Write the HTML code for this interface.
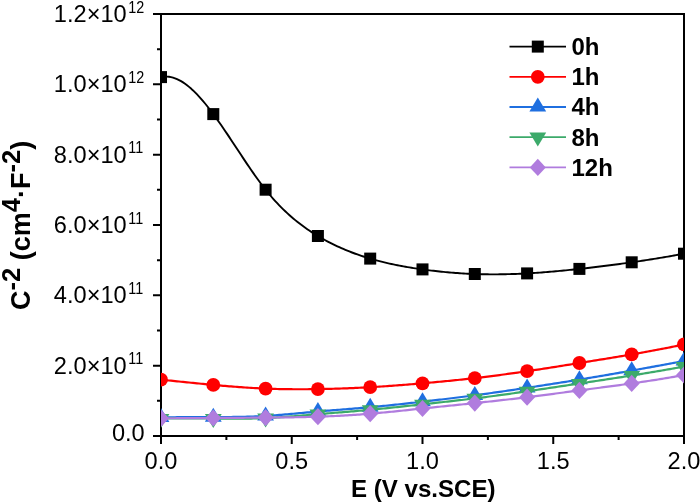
<!DOCTYPE html>
<html><head><meta charset="utf-8"><title>chart</title>
<style>
html,body{margin:0;padding:0;background:#fff;}
body{width:700px;height:503px;position:relative;overflow:hidden;font-family:"Liberation Sans",sans-serif;}
</style></head><body>
<svg width="700" height="503" viewBox="0 0 700 503" style="position:absolute;left:0;top:0;will-change:transform">
<defs><clipPath id="pc"><rect x="161" y="14" width="523" height="422"/></clipPath></defs>
<rect x="0" y="0" width="700" height="503" fill="#ffffff"/>
<rect x="161.0" y="14.0" width="523.0" height="422.0" fill="none" stroke="#000" stroke-width="2"/>
<path d="M153 436.00 H161.0 M157 400.83 H161.0 M153 365.67 H161.0 M157 330.50 H161.0 M153 295.33 H161.0 M157 260.17 H161.0 M153 225.00 H161.0 M157 189.83 H161.0 M153 154.67 H161.0 M157 119.50 H161.0 M153 84.33 H161.0 M157 49.17 H161.0 M153 14.00 H161.0 M161.00 436.0 V444 M226.38 436.0 V440 M291.75 436.0 V444 M357.12 436.0 V440 M422.50 436.0 V444 M487.88 436.0 V440 M553.25 436.0 V444 M618.62 436.0 V440 M684.00 436.0 V444" stroke="#000" stroke-width="2" fill="none"/>
<g clip-path="url(#pc)">
<path d="M161.00 77.10 L163.00 76.76 L165.01 76.60 L167.01 76.61 L169.02 76.79 L171.02 77.14 L173.02 77.64 L175.03 78.30 L177.03 79.12 L179.03 80.07 L181.04 81.17 L183.04 82.40 L185.05 83.77 L187.05 85.26 L189.05 86.87 L191.06 88.59 L193.06 90.43 L195.07 92.37 L197.07 94.42 L199.07 96.56 L201.08 98.79 L203.08 101.11 L205.08 103.51 L207.09 105.99 L209.09 108.54 L211.10 111.15 L213.10 113.83 L215.10 116.56 L217.11 119.35 L219.11 122.19 L221.11 125.06 L223.12 127.98 L225.12 130.92 L227.13 133.90 L229.13 136.90 L231.13 139.91 L233.14 142.94 L235.14 145.98 L237.15 149.02 L239.15 152.06 L241.15 155.09 L243.16 158.11 L245.16 161.12 L247.16 164.10 L249.17 167.06 L251.17 169.99 L253.18 172.88 L255.18 175.73 L257.18 178.53 L259.19 181.28 L261.19 183.98 L263.20 186.62 L265.20 189.19 L267.20 191.70 L269.21 194.13 L271.21 196.50 L273.21 198.79 L275.22 201.03 L277.22 203.20 L279.23 205.30 L281.23 207.35 L283.23 209.34 L285.24 211.27 L287.24 213.14 L289.25 214.96 L291.25 216.73 L293.25 218.45 L295.26 220.12 L297.26 221.74 L299.26 223.31 L301.27 224.84 L303.27 226.32 L305.28 227.77 L307.28 229.17 L309.28 230.53 L311.29 231.86 L313.29 233.15 L315.30 234.41 L317.30 235.64 L319.30 236.83 L321.31 238.00 L323.31 239.13 L325.31 240.24 L327.32 241.32 L329.32 242.37 L331.33 243.40 L333.33 244.39 L335.33 245.36 L337.34 246.31 L339.34 247.23 L341.34 248.12 L343.35 248.99 L345.35 249.84 L347.36 250.67 L349.36 251.47 L351.36 252.25 L353.37 253.01 L355.37 253.74 L357.38 254.46 L359.38 255.16 L361.38 255.84 L363.39 256.49 L365.39 257.13 L367.39 257.76 L369.40 258.36 L371.40 258.95 L373.41 259.52 L375.41 260.08 L377.41 260.62 L379.42 261.15 L381.42 261.66 L383.43 262.15 L385.43 262.63 L387.43 263.10 L389.44 263.56 L391.44 264.00 L393.44 264.42 L395.45 264.84 L397.45 265.24 L399.46 265.64 L401.46 266.02 L403.46 266.38 L405.47 266.74 L407.47 267.09 L409.48 267.43 L411.48 267.76 L413.48 268.07 L415.49 268.38 L417.49 268.68 L419.49 268.98 L421.50 269.26 L423.50 269.54 L425.51 269.81 L427.51 270.07 L429.51 270.32 L431.52 270.57 L433.52 270.81 L435.52 271.04 L437.53 271.26 L439.53 271.48 L441.54 271.69 L443.54 271.89 L445.54 272.08 L447.55 272.26 L449.55 272.44 L451.56 272.61 L453.56 272.77 L455.56 272.93 L457.57 273.07 L459.57 273.21 L461.57 273.34 L463.58 273.46 L465.58 273.58 L467.59 273.68 L469.59 273.78 L471.59 273.87 L473.60 273.95 L475.60 274.03 L477.61 274.09 L479.61 274.15 L481.61 274.20 L483.62 274.25 L485.62 274.28 L487.62 274.31 L489.63 274.33 L491.63 274.34 L493.64 274.34 L495.64 274.34 L497.64 274.33 L499.65 274.31 L501.65 274.29 L503.66 274.26 L505.66 274.22 L507.66 274.17 L509.67 274.12 L511.67 274.06 L513.67 274.00 L515.68 273.93 L517.68 273.85 L519.69 273.77 L521.69 273.68 L523.69 273.58 L525.70 273.48 L527.70 273.37 L529.70 273.25 L531.71 273.13 L533.71 273.01 L535.72 272.87 L537.72 272.74 L539.72 272.59 L541.73 272.45 L543.73 272.29 L545.74 272.14 L547.74 271.97 L549.74 271.81 L551.75 271.64 L553.75 271.46 L555.75 271.28 L557.76 271.10 L559.76 270.91 L561.77 270.72 L563.77 270.53 L565.77 270.33 L567.78 270.13 L569.78 269.92 L571.79 269.71 L573.79 269.50 L575.79 269.29 L577.80 269.07 L579.80 268.86 L581.80 268.64 L583.81 268.41 L585.81 268.19 L587.82 267.96 L589.82 267.73 L591.82 267.49 L593.83 267.26 L595.83 267.02 L597.84 266.78 L599.84 266.54 L601.84 266.29 L603.85 266.04 L605.85 265.79 L607.85 265.54 L609.86 265.28 L611.86 265.02 L613.87 264.76 L615.87 264.49 L617.87 264.22 L619.88 263.95 L621.88 263.68 L623.89 263.40 L625.89 263.13 L627.89 262.84 L629.90 262.56 L631.90 262.27 L633.90 261.98 L635.91 261.69 L637.91 261.39 L639.92 261.09 L641.92 260.79 L643.92 260.48 L645.93 260.17 L647.93 259.86 L649.93 259.55 L651.94 259.23 L653.94 258.91 L655.95 258.58 L657.95 258.26 L659.95 257.93 L661.96 257.59 L663.96 257.25 L665.97 256.91 L667.97 256.57 L669.97 256.22 L671.98 255.87 L673.98 255.52 L675.98 255.16 L677.99 254.80 L679.99 254.44 L682.00 254.07 L684.00 253.70" fill="none" stroke="#000000" stroke-width="1.9" stroke-linejoin="round"/>
<rect x="155.00" y="71.10" width="12.0" height="12.0" fill="#000000"/>
<rect x="207.30" y="108.10" width="12.0" height="12.0" fill="#000000"/>
<rect x="259.60" y="183.70" width="12.0" height="12.0" fill="#000000"/>
<rect x="311.90" y="230.00" width="12.0" height="12.0" fill="#000000"/>
<rect x="364.20" y="252.60" width="12.0" height="12.0" fill="#000000"/>
<rect x="416.50" y="263.40" width="12.0" height="12.0" fill="#000000"/>
<rect x="468.80" y="268.00" width="12.0" height="12.0" fill="#000000"/>
<rect x="521.10" y="267.40" width="12.0" height="12.0" fill="#000000"/>
<rect x="573.40" y="262.90" width="12.0" height="12.0" fill="#000000"/>
<rect x="625.70" y="256.30" width="12.0" height="12.0" fill="#000000"/>
<rect x="678.00" y="247.70" width="12.0" height="12.0" fill="#000000"/>
<path d="M161.00 379.70 L163.00 379.90 L165.01 380.10 L167.01 380.30 L169.02 380.50 L171.02 380.70 L173.02 380.90 L175.03 381.11 L177.03 381.31 L179.03 381.51 L181.04 381.72 L183.04 381.92 L185.05 382.12 L187.05 382.33 L189.05 382.53 L191.06 382.73 L193.06 382.93 L195.07 383.13 L197.07 383.33 L199.07 383.53 L201.08 383.73 L203.08 383.93 L205.08 384.12 L207.09 384.31 L209.09 384.50 L211.10 384.69 L213.10 384.88 L215.10 385.07 L217.11 385.25 L219.11 385.43 L221.11 385.61 L223.12 385.78 L225.12 385.95 L227.13 386.12 L229.13 386.29 L231.13 386.45 L233.14 386.61 L235.14 386.77 L237.15 386.92 L239.15 387.07 L241.15 387.21 L243.16 387.35 L245.16 387.49 L247.16 387.62 L249.17 387.75 L251.17 387.87 L253.18 387.99 L255.18 388.10 L257.18 388.21 L259.19 388.31 L261.19 388.41 L263.20 388.50 L265.20 388.58 L267.20 388.66 L269.21 388.74 L271.21 388.81 L273.21 388.87 L275.22 388.93 L277.22 388.98 L279.23 389.03 L281.23 389.08 L283.23 389.11 L285.24 389.15 L287.24 389.18 L289.25 389.20 L291.25 389.22 L293.25 389.23 L295.26 389.24 L297.26 389.25 L299.26 389.25 L301.27 389.25 L303.27 389.25 L305.28 389.24 L307.28 389.23 L309.28 389.21 L311.29 389.19 L313.29 389.17 L315.30 389.14 L317.30 389.11 L319.30 389.08 L321.31 389.04 L323.31 389.00 L325.31 388.96 L327.32 388.92 L329.32 388.87 L331.33 388.82 L333.33 388.76 L335.33 388.71 L337.34 388.64 L339.34 388.58 L341.34 388.51 L343.35 388.45 L345.35 388.37 L347.36 388.30 L349.36 388.22 L351.36 388.13 L353.37 388.05 L355.37 387.96 L357.38 387.87 L359.38 387.77 L361.38 387.67 L363.39 387.57 L365.39 387.47 L367.39 387.36 L369.40 387.25 L371.40 387.13 L373.41 387.01 L375.41 386.89 L377.41 386.77 L379.42 386.64 L381.42 386.51 L383.43 386.37 L385.43 386.24 L387.43 386.10 L389.44 385.96 L391.44 385.81 L393.44 385.66 L395.45 385.52 L397.45 385.36 L399.46 385.21 L401.46 385.05 L403.46 384.90 L405.47 384.73 L407.47 384.57 L409.48 384.41 L411.48 384.24 L413.48 384.07 L415.49 383.90 L417.49 383.73 L419.49 383.56 L421.50 383.39 L423.50 383.21 L425.51 383.04 L427.51 382.86 L429.51 382.68 L431.52 382.50 L433.52 382.31 L435.52 382.13 L437.53 381.94 L439.53 381.76 L441.54 381.57 L443.54 381.38 L445.54 381.18 L447.55 380.99 L449.55 380.79 L451.56 380.59 L453.56 380.39 L455.56 380.18 L457.57 379.98 L459.57 379.77 L461.57 379.56 L463.58 379.34 L465.58 379.13 L467.59 378.91 L469.59 378.69 L471.59 378.46 L473.60 378.24 L475.60 378.01 L477.61 377.78 L479.61 377.54 L481.61 377.30 L483.62 377.06 L485.62 376.82 L487.62 376.57 L489.63 376.32 L491.63 376.07 L493.64 375.82 L495.64 375.56 L497.64 375.30 L499.65 375.04 L501.65 374.77 L503.66 374.51 L505.66 374.24 L507.66 373.96 L509.67 373.69 L511.67 373.41 L513.67 373.13 L515.68 372.85 L517.68 372.57 L519.69 372.28 L521.69 371.99 L523.69 371.70 L525.70 371.41 L527.70 371.11 L529.70 370.81 L531.71 370.51 L533.71 370.21 L535.72 369.91 L537.72 369.60 L539.72 369.30 L541.73 368.99 L543.73 368.68 L545.74 368.37 L547.74 368.05 L549.74 367.74 L551.75 367.42 L553.75 367.11 L555.75 366.79 L557.76 366.47 L559.76 366.15 L561.77 365.83 L563.77 365.51 L565.77 365.19 L567.78 364.87 L569.78 364.55 L571.79 364.22 L573.79 363.90 L575.79 363.58 L577.80 363.26 L579.80 362.94 L581.80 362.61 L583.81 362.29 L585.81 361.97 L587.82 361.65 L589.82 361.33 L591.82 361.00 L593.83 360.68 L595.83 360.36 L597.84 360.03 L599.84 359.71 L601.84 359.38 L603.85 359.06 L605.85 358.73 L607.85 358.40 L609.86 358.07 L611.86 357.74 L613.87 357.41 L615.87 357.08 L617.87 356.75 L619.88 356.41 L621.88 356.08 L623.89 355.74 L625.89 355.40 L627.89 355.05 L629.90 354.71 L631.90 354.37 L633.90 354.02 L635.91 353.67 L637.91 353.32 L639.92 352.96 L641.92 352.60 L643.92 352.24 L645.93 351.88 L647.93 351.52 L649.93 351.15 L651.94 350.78 L653.94 350.41 L655.95 350.03 L657.95 349.65 L659.95 349.27 L661.96 348.88 L663.96 348.49 L665.97 348.10 L667.97 347.71 L669.97 347.31 L671.98 346.90 L673.98 346.50 L675.98 346.08 L677.99 345.67 L679.99 345.25 L682.00 344.83 L684.00 344.40" fill="none" stroke="#ff0000" stroke-width="2.2" stroke-linejoin="round"/>
<circle cx="161.00" cy="379.70" r="6.9" fill="#ff0000"/>
<circle cx="213.30" cy="384.90" r="6.9" fill="#ff0000"/>
<circle cx="265.60" cy="388.60" r="6.9" fill="#ff0000"/>
<circle cx="317.90" cy="389.10" r="6.9" fill="#ff0000"/>
<circle cx="370.20" cy="387.20" r="6.9" fill="#ff0000"/>
<circle cx="422.50" cy="383.30" r="6.9" fill="#ff0000"/>
<circle cx="474.80" cy="378.10" r="6.9" fill="#ff0000"/>
<circle cx="527.10" cy="371.20" r="6.9" fill="#ff0000"/>
<circle cx="579.40" cy="363.00" r="6.9" fill="#ff0000"/>
<circle cx="631.70" cy="354.40" r="6.9" fill="#ff0000"/>
<circle cx="684.00" cy="344.40" r="6.9" fill="#ff0000"/>
<path d="M161.00 417.50 L163.00 417.45 L165.01 417.40 L167.01 417.36 L169.02 417.32 L171.02 417.28 L173.02 417.25 L175.03 417.23 L177.03 417.20 L179.03 417.18 L181.04 417.17 L183.04 417.15 L185.05 417.14 L187.05 417.13 L189.05 417.12 L191.06 417.12 L193.06 417.11 L195.07 417.11 L197.07 417.11 L199.07 417.11 L201.08 417.11 L203.08 417.11 L205.08 417.11 L207.09 417.11 L209.09 417.10 L211.10 417.10 L213.10 417.10 L215.10 417.10 L217.11 417.09 L219.11 417.08 L221.11 417.08 L223.12 417.07 L225.12 417.05 L227.13 417.04 L229.13 417.02 L231.13 417.00 L233.14 416.97 L235.14 416.94 L237.15 416.91 L239.15 416.87 L241.15 416.83 L243.16 416.79 L245.16 416.74 L247.16 416.68 L249.17 416.62 L251.17 416.56 L253.18 416.49 L255.18 416.41 L257.18 416.32 L259.19 416.23 L261.19 416.14 L263.20 416.03 L265.20 415.92 L267.20 415.80 L269.21 415.68 L271.21 415.55 L273.21 415.41 L275.22 415.26 L277.22 415.11 L279.23 414.96 L281.23 414.80 L283.23 414.63 L285.24 414.47 L287.24 414.29 L289.25 414.12 L291.25 413.94 L293.25 413.76 L295.26 413.58 L297.26 413.39 L299.26 413.21 L301.27 413.02 L303.27 412.84 L305.28 412.65 L307.28 412.46 L309.28 412.28 L311.29 412.09 L313.29 411.91 L315.30 411.73 L317.30 411.55 L319.30 411.38 L321.31 411.20 L323.31 411.03 L325.31 410.87 L327.32 410.70 L329.32 410.54 L331.33 410.37 L333.33 410.21 L335.33 410.05 L337.34 409.89 L339.34 409.73 L341.34 409.58 L343.35 409.42 L345.35 409.26 L347.36 409.10 L349.36 408.94 L351.36 408.78 L353.37 408.62 L355.37 408.46 L357.38 408.30 L359.38 408.13 L361.38 407.96 L363.39 407.80 L365.39 407.62 L367.39 407.45 L369.40 407.27 L371.40 407.09 L373.41 406.91 L375.41 406.72 L377.41 406.53 L379.42 406.34 L381.42 406.14 L383.43 405.95 L385.43 405.75 L387.43 405.54 L389.44 405.34 L391.44 405.13 L393.44 404.92 L395.45 404.71 L397.45 404.50 L399.46 404.28 L401.46 404.06 L403.46 403.84 L405.47 403.62 L407.47 403.40 L409.48 403.18 L411.48 402.95 L413.48 402.73 L415.49 402.50 L417.49 402.27 L419.49 402.04 L421.50 401.82 L423.50 401.58 L425.51 401.35 L427.51 401.12 L429.51 400.89 L431.52 400.66 L433.52 400.42 L435.52 400.19 L437.53 399.95 L439.53 399.71 L441.54 399.47 L443.54 399.23 L445.54 398.99 L447.55 398.75 L449.55 398.51 L451.56 398.26 L453.56 398.02 L455.56 397.77 L457.57 397.52 L459.57 397.27 L461.57 397.01 L463.58 396.76 L465.58 396.50 L467.59 396.25 L469.59 395.99 L471.59 395.72 L473.60 395.46 L475.60 395.19 L477.61 394.93 L479.61 394.66 L481.61 394.38 L483.62 394.11 L485.62 393.83 L487.62 393.56 L489.63 393.28 L491.63 393.00 L493.64 392.71 L495.64 392.43 L497.64 392.14 L499.65 391.86 L501.65 391.57 L503.66 391.28 L505.66 390.99 L507.66 390.69 L509.67 390.40 L511.67 390.10 L513.67 389.81 L515.68 389.51 L517.68 389.21 L519.69 388.91 L521.69 388.61 L523.69 388.31 L525.70 388.01 L527.70 387.71 L529.70 387.41 L531.71 387.10 L533.71 386.80 L535.72 386.49 L537.72 386.19 L539.72 385.88 L541.73 385.57 L543.73 385.26 L545.74 384.96 L547.74 384.65 L549.74 384.33 L551.75 384.02 L553.75 383.71 L555.75 383.39 L557.76 383.08 L559.76 382.76 L561.77 382.45 L563.77 382.13 L565.77 381.81 L567.78 381.49 L569.78 381.16 L571.79 380.84 L573.79 380.52 L575.79 380.19 L577.80 379.86 L579.80 379.53 L581.80 379.20 L583.81 378.87 L585.81 378.54 L587.82 378.21 L589.82 377.87 L591.82 377.53 L593.83 377.20 L595.83 376.86 L597.84 376.52 L599.84 376.18 L601.84 375.83 L603.85 375.49 L605.85 375.14 L607.85 374.80 L609.86 374.45 L611.86 374.10 L613.87 373.75 L615.87 373.40 L617.87 373.05 L619.88 372.70 L621.88 372.35 L623.89 371.99 L625.89 371.64 L627.89 371.28 L629.90 370.92 L631.90 370.56 L633.90 370.21 L635.91 369.85 L637.91 369.48 L639.92 369.12 L641.92 368.76 L643.92 368.40 L645.93 368.03 L647.93 367.67 L649.93 367.30 L651.94 366.94 L653.94 366.57 L655.95 366.20 L657.95 365.84 L659.95 365.47 L661.96 365.10 L663.96 364.73 L665.97 364.36 L667.97 363.99 L669.97 363.61 L671.98 363.24 L673.98 362.87 L675.98 362.50 L677.99 362.12 L679.99 361.75 L682.00 361.37 L684.00 361.00" fill="none" stroke="#1f6fe0" stroke-width="2.2" stroke-linejoin="round"/>
<path d="M152.60 422.10 L169.40 422.10 L161.00 408.10 Z" fill="#1f6fe0"/>
<path d="M204.90 421.70 L221.70 421.70 L213.30 407.70 Z" fill="#1f6fe0"/>
<path d="M257.20 420.50 L274.00 420.50 L265.60 406.50 Z" fill="#1f6fe0"/>
<path d="M309.50 416.10 L326.30 416.10 L317.90 402.10 Z" fill="#1f6fe0"/>
<path d="M361.80 411.80 L378.60 411.80 L370.20 397.80 Z" fill="#1f6fe0"/>
<path d="M414.10 406.30 L430.90 406.30 L422.50 392.30 Z" fill="#1f6fe0"/>
<path d="M466.40 399.90 L483.20 399.90 L474.80 385.90 Z" fill="#1f6fe0"/>
<path d="M518.70 392.40 L535.50 392.40 L527.10 378.40 Z" fill="#1f6fe0"/>
<path d="M571.00 384.20 L587.80 384.20 L579.40 370.20 Z" fill="#1f6fe0"/>
<path d="M623.30 375.20 L640.10 375.20 L631.70 361.20 Z" fill="#1f6fe0"/>
<path d="M675.60 365.60 L692.40 365.60 L684.00 351.60 Z" fill="#1f6fe0"/>
<path d="M161.00 418.70 L163.00 418.63 L165.01 418.57 L167.01 418.52 L169.02 418.47 L171.02 418.43 L173.02 418.40 L175.03 418.37 L177.03 418.34 L179.03 418.32 L181.04 418.31 L183.04 418.30 L185.05 418.30 L187.05 418.29 L189.05 418.30 L191.06 418.30 L193.06 418.31 L195.07 418.32 L197.07 418.34 L199.07 418.35 L201.08 418.37 L203.08 418.39 L205.08 418.41 L207.09 418.43 L209.09 418.45 L211.10 418.48 L213.10 418.50 L215.10 418.52 L217.11 418.54 L219.11 418.56 L221.11 418.58 L223.12 418.60 L225.12 418.62 L227.13 418.63 L229.13 418.64 L231.13 418.65 L233.14 418.66 L235.14 418.66 L237.15 418.66 L239.15 418.66 L241.15 418.65 L243.16 418.63 L245.16 418.62 L247.16 418.59 L249.17 418.57 L251.17 418.53 L253.18 418.49 L255.18 418.45 L257.18 418.40 L259.19 418.34 L261.19 418.27 L263.20 418.20 L265.20 418.12 L267.20 418.03 L269.21 417.93 L271.21 417.83 L273.21 417.72 L275.22 417.60 L277.22 417.47 L279.23 417.34 L281.23 417.21 L283.23 417.07 L285.24 416.92 L287.24 416.77 L289.25 416.62 L291.25 416.46 L293.25 416.30 L295.26 416.14 L297.26 415.97 L299.26 415.80 L301.27 415.63 L303.27 415.46 L305.28 415.29 L307.28 415.12 L309.28 414.94 L311.29 414.77 L313.29 414.59 L315.30 414.42 L317.30 414.25 L319.30 414.08 L321.31 413.91 L323.31 413.75 L325.31 413.58 L327.32 413.42 L329.32 413.25 L331.33 413.09 L333.33 412.93 L335.33 412.76 L337.34 412.60 L339.34 412.44 L341.34 412.28 L343.35 412.11 L345.35 411.95 L347.36 411.78 L349.36 411.62 L351.36 411.45 L353.37 411.29 L355.37 411.12 L357.38 410.94 L359.38 410.77 L361.38 410.60 L363.39 410.42 L365.39 410.24 L367.39 410.06 L369.40 409.87 L371.40 409.69 L373.41 409.50 L375.41 409.30 L377.41 409.11 L379.42 408.91 L381.42 408.71 L383.43 408.51 L385.43 408.30 L387.43 408.10 L389.44 407.89 L391.44 407.68 L393.44 407.46 L395.45 407.25 L397.45 407.04 L399.46 406.82 L401.46 406.60 L403.46 406.39 L405.47 406.17 L407.47 405.95 L409.48 405.73 L411.48 405.51 L413.48 405.29 L415.49 405.07 L417.49 404.85 L419.49 404.63 L421.50 404.41 L423.50 404.19 L425.51 403.97 L427.51 403.75 L429.51 403.53 L431.52 403.32 L433.52 403.10 L435.52 402.88 L437.53 402.66 L439.53 402.44 L441.54 402.22 L443.54 402.00 L445.54 401.78 L447.55 401.56 L449.55 401.34 L451.56 401.11 L453.56 400.89 L455.56 400.66 L457.57 400.43 L459.57 400.20 L461.57 399.97 L463.58 399.74 L465.58 399.51 L467.59 399.27 L469.59 399.03 L471.59 398.79 L473.60 398.55 L475.60 398.30 L477.61 398.05 L479.61 397.80 L481.61 397.55 L483.62 397.29 L485.62 397.04 L487.62 396.78 L489.63 396.52 L491.63 396.25 L493.64 395.99 L495.64 395.72 L497.64 395.45 L499.65 395.18 L501.65 394.90 L503.66 394.63 L505.66 394.35 L507.66 394.07 L509.67 393.79 L511.67 393.51 L513.67 393.23 L515.68 392.94 L517.68 392.66 L519.69 392.37 L521.69 392.08 L523.69 391.79 L525.70 391.50 L527.70 391.21 L529.70 390.92 L531.71 390.63 L533.71 390.33 L535.72 390.04 L537.72 389.74 L539.72 389.45 L541.73 389.15 L543.73 388.85 L545.74 388.56 L547.74 388.26 L549.74 387.96 L551.75 387.66 L553.75 387.36 L555.75 387.06 L557.76 386.76 L559.76 386.46 L561.77 386.16 L563.77 385.85 L565.77 385.55 L567.78 385.25 L569.78 384.95 L571.79 384.65 L573.79 384.34 L575.79 384.04 L577.80 383.74 L579.80 383.44 L581.80 383.14 L583.81 382.84 L585.81 382.54 L587.82 382.23 L589.82 381.93 L591.82 381.63 L593.83 381.33 L595.83 381.03 L597.84 380.72 L599.84 380.42 L601.84 380.12 L603.85 379.81 L605.85 379.51 L607.85 379.20 L609.86 378.90 L611.86 378.59 L613.87 378.28 L615.87 377.98 L617.87 377.67 L619.88 377.36 L621.88 377.04 L623.89 376.73 L625.89 376.42 L627.89 376.10 L629.90 375.79 L631.90 375.47 L633.90 375.15 L635.91 374.83 L637.91 374.51 L639.92 374.18 L641.92 373.85 L643.92 373.53 L645.93 373.20 L647.93 372.87 L649.93 372.53 L651.94 372.20 L653.94 371.86 L655.95 371.52 L657.95 371.18 L659.95 370.83 L661.96 370.49 L663.96 370.14 L665.97 369.79 L667.97 369.43 L669.97 369.07 L671.98 368.72 L673.98 368.35 L675.98 367.99 L677.99 367.62 L679.99 367.25 L682.00 366.88 L684.00 366.50" fill="none" stroke="#3caa6a" stroke-width="2.2" stroke-linejoin="round"/>
<path d="M152.60 414.10 L169.40 414.10 L161.00 428.10 Z" fill="#3caa6a"/>
<path d="M204.90 413.90 L221.70 413.90 L213.30 427.90 Z" fill="#3caa6a"/>
<path d="M257.20 413.50 L274.00 413.50 L265.60 427.50 Z" fill="#3caa6a"/>
<path d="M309.50 409.60 L326.30 409.60 L317.90 423.60 Z" fill="#3caa6a"/>
<path d="M361.80 405.20 L378.60 405.20 L370.20 419.20 Z" fill="#3caa6a"/>
<path d="M414.10 399.70 L430.90 399.70 L422.50 413.70 Z" fill="#3caa6a"/>
<path d="M466.40 393.80 L483.20 393.80 L474.80 407.80 Z" fill="#3caa6a"/>
<path d="M518.70 386.70 L535.50 386.70 L527.10 400.70 Z" fill="#3caa6a"/>
<path d="M571.00 378.90 L587.80 378.90 L579.40 392.90 Z" fill="#3caa6a"/>
<path d="M623.30 370.90 L640.10 370.90 L631.70 384.90 Z" fill="#3caa6a"/>
<path d="M675.60 361.90 L692.40 361.90 L684.00 375.90 Z" fill="#3caa6a"/>
<path d="M161.00 418.30 L163.00 418.29 L165.01 418.28 L167.01 418.27 L169.02 418.26 L171.02 418.25 L173.02 418.24 L175.03 418.23 L177.03 418.22 L179.03 418.21 L181.04 418.20 L183.04 418.18 L185.05 418.17 L187.05 418.16 L189.05 418.15 L191.06 418.14 L193.06 418.13 L195.07 418.11 L197.07 418.10 L199.07 418.09 L201.08 418.08 L203.08 418.07 L205.08 418.05 L207.09 418.04 L209.09 418.03 L211.10 418.01 L213.10 418.00 L215.10 417.99 L217.11 417.97 L219.11 417.96 L221.11 417.95 L223.12 417.93 L225.12 417.92 L227.13 417.90 L229.13 417.89 L231.13 417.88 L233.14 417.86 L235.14 417.85 L237.15 417.83 L239.15 417.82 L241.15 417.80 L243.16 417.79 L245.16 417.77 L247.16 417.75 L249.17 417.74 L251.17 417.72 L253.18 417.71 L255.18 417.69 L257.18 417.67 L259.19 417.66 L261.19 417.64 L263.20 417.62 L265.20 417.60 L267.20 417.59 L269.21 417.57 L271.21 417.55 L273.21 417.53 L275.22 417.51 L277.22 417.49 L279.23 417.47 L281.23 417.45 L283.23 417.42 L285.24 417.40 L287.24 417.37 L289.25 417.35 L291.25 417.32 L293.25 417.28 L295.26 417.25 L297.26 417.22 L299.26 417.18 L301.27 417.14 L303.27 417.10 L305.28 417.05 L307.28 417.00 L309.28 416.95 L311.29 416.90 L313.29 416.84 L315.30 416.78 L317.30 416.72 L319.30 416.65 L321.31 416.58 L323.31 416.51 L325.31 416.43 L327.32 416.35 L329.32 416.27 L331.33 416.18 L333.33 416.08 L335.33 415.99 L337.34 415.89 L339.34 415.79 L341.34 415.68 L343.35 415.57 L345.35 415.45 L347.36 415.33 L349.36 415.21 L351.36 415.08 L353.37 414.95 L355.37 414.82 L357.38 414.68 L359.38 414.54 L361.38 414.39 L363.39 414.24 L365.39 414.09 L367.39 413.93 L369.40 413.77 L371.40 413.60 L373.41 413.43 L375.41 413.25 L377.41 413.07 L379.42 412.89 L381.42 412.71 L383.43 412.52 L385.43 412.33 L387.43 412.13 L389.44 411.94 L391.44 411.74 L393.44 411.54 L395.45 411.33 L397.45 411.13 L399.46 410.92 L401.46 410.72 L403.46 410.51 L405.47 410.30 L407.47 410.09 L409.48 409.88 L411.48 409.66 L413.48 409.45 L415.49 409.24 L417.49 409.03 L419.49 408.82 L421.50 408.61 L423.50 408.39 L425.51 408.19 L427.51 407.98 L429.51 407.77 L431.52 407.56 L433.52 407.35 L435.52 407.15 L437.53 406.94 L439.53 406.73 L441.54 406.53 L443.54 406.32 L445.54 406.12 L447.55 405.91 L449.55 405.71 L451.56 405.50 L453.56 405.30 L455.56 405.09 L457.57 404.89 L459.57 404.68 L461.57 404.47 L463.58 404.27 L465.58 404.06 L467.59 403.85 L469.59 403.64 L471.59 403.44 L473.60 403.23 L475.60 403.02 L477.61 402.80 L479.61 402.59 L481.61 402.38 L483.62 402.16 L485.62 401.95 L487.62 401.73 L489.63 401.52 L491.63 401.30 L493.64 401.08 L495.64 400.86 L497.64 400.64 L499.65 400.41 L501.65 400.19 L503.66 399.96 L505.66 399.73 L507.66 399.51 L509.67 399.27 L511.67 399.04 L513.67 398.81 L515.68 398.57 L517.68 398.34 L519.69 398.10 L521.69 397.86 L523.69 397.62 L525.70 397.37 L527.70 397.13 L529.70 396.88 L531.71 396.63 L533.71 396.38 L535.72 396.12 L537.72 395.87 L539.72 395.61 L541.73 395.36 L543.73 395.10 L545.74 394.84 L547.74 394.58 L549.74 394.32 L551.75 394.06 L553.75 393.79 L555.75 393.53 L557.76 393.26 L559.76 393.00 L561.77 392.73 L563.77 392.47 L565.77 392.20 L567.78 391.94 L569.78 391.67 L571.79 391.41 L573.79 391.14 L575.79 390.88 L577.80 390.61 L579.80 390.35 L581.80 390.08 L583.81 389.82 L585.81 389.56 L587.82 389.29 L589.82 389.03 L591.82 388.77 L593.83 388.51 L595.83 388.24 L597.84 387.98 L599.84 387.72 L601.84 387.45 L603.85 387.19 L605.85 386.92 L607.85 386.66 L609.86 386.39 L611.86 386.12 L613.87 385.86 L615.87 385.59 L617.87 385.31 L619.88 385.04 L621.88 384.77 L623.89 384.49 L625.89 384.21 L627.89 383.94 L629.90 383.65 L631.90 383.37 L633.90 383.09 L635.91 382.80 L637.91 382.51 L639.92 382.22 L641.92 381.92 L643.92 381.63 L645.93 381.33 L647.93 381.03 L649.93 380.72 L651.94 380.41 L653.94 380.10 L655.95 379.79 L657.95 379.47 L659.95 379.15 L661.96 378.82 L663.96 378.50 L665.97 378.17 L667.97 377.83 L669.97 377.49 L671.98 377.15 L673.98 376.80 L675.98 376.45 L677.99 376.09 L679.99 375.73 L682.00 375.37 L684.00 375.00" fill="none" stroke="#b07cde" stroke-width="2.2" stroke-linejoin="round"/>
<path d="M153.00 418.30 L161.00 409.70 L169.00 418.30 L161.00 426.90 Z" fill="#b07cde"/>
<path d="M205.30 418.00 L213.30 409.40 L221.30 418.00 L213.30 426.60 Z" fill="#b07cde"/>
<path d="M257.60 417.60 L265.60 409.00 L273.60 417.60 L265.60 426.20 Z" fill="#b07cde"/>
<path d="M309.90 416.70 L317.90 408.10 L325.90 416.70 L317.90 425.30 Z" fill="#b07cde"/>
<path d="M362.20 413.70 L370.20 405.10 L378.20 413.70 L370.20 422.30 Z" fill="#b07cde"/>
<path d="M414.50 408.50 L422.50 399.90 L430.50 408.50 L422.50 417.10 Z" fill="#b07cde"/>
<path d="M466.80 403.10 L474.80 394.50 L482.80 403.10 L474.80 411.70 Z" fill="#b07cde"/>
<path d="M519.10 397.20 L527.10 388.60 L535.10 397.20 L527.10 405.80 Z" fill="#b07cde"/>
<path d="M571.40 390.40 L579.40 381.80 L587.40 390.40 L579.40 399.00 Z" fill="#b07cde"/>
<path d="M623.70 383.40 L631.70 374.80 L639.70 383.40 L631.70 392.00 Z" fill="#b07cde"/>
<path d="M676.00 375.00 L684.00 366.40 L692.00 375.00 L684.00 383.60 Z" fill="#b07cde"/>
</g>
<g font-family="Liberation Sans, sans-serif" font-size="23.6" fill="#000">
<text x="144.7" y="441.40" text-anchor="end">0.0</text>
<text x="126.7" y="373.67" text-anchor="end">2.0×10</text>
<text transform="translate(128.3,364.17) scale(0.92,1.04)" font-size="15.6">11</text>
<text x="126.7" y="303.33" text-anchor="end">4.0×10</text>
<text transform="translate(128.3,293.83) scale(0.92,1.04)" font-size="15.6">11</text>
<text x="126.7" y="233.00" text-anchor="end">6.0×10</text>
<text transform="translate(128.3,223.50) scale(0.92,1.04)" font-size="15.6">11</text>
<text x="126.7" y="162.67" text-anchor="end">8.0×10</text>
<text transform="translate(128.3,153.17) scale(0.92,1.04)" font-size="15.6">11</text>
<text x="126.7" y="92.33" text-anchor="end">1.0×10</text>
<text transform="translate(128.3,82.83) scale(0.92,1.04)" font-size="15.6">12</text>
<text x="126.7" y="22.00" text-anchor="end">1.2×10</text>
<text transform="translate(128.3,12.50) scale(0.92,1.04)" font-size="15.6">12</text>
<text x="161.00" y="468.5" text-anchor="middle">0.0</text>
<text x="291.75" y="468.5" text-anchor="middle">0.5</text>
<text x="422.50" y="468.5" text-anchor="middle">1.0</text>
<text x="553.25" y="468.5" text-anchor="middle">1.5</text>
<text x="684.00" y="468.5" text-anchor="middle">2.0</text>
</g>
<g font-family="Liberation Sans, sans-serif" font-weight="bold" fill="#000">
<text x="423.3" y="497" font-size="24.1" text-anchor="middle">E (V vs.SCE)</text>
<text transform="translate(29.8,225.4) rotate(-90)" font-size="27" text-anchor="middle">C<tspan font-size="25.5" dy="-10.2">-2</tspan><tspan dy="10.2"> (cm</tspan><tspan font-size="25.5" dy="-10.2">4</tspan><tspan dy="10.2">·F</tspan><tspan font-size="25.5" dy="-10.2">-2</tspan><tspan dy="10.2">)</tspan></text>
</g>
<g font-family="Liberation Sans, sans-serif" font-weight="bold" font-size="24" fill="#000">
<path d="M509.5 46.60 H566" stroke="#000000" stroke-width="1.8" fill="none"/>
<rect x="531.80" y="40.60" width="12.0" height="12.0" fill="#000000"/>
<text x="571.5" y="54.90">0h</text>
<path d="M509.5 76.80 H566" stroke="#ff0000" stroke-width="1.8" fill="none"/>
<circle cx="537.80" cy="76.80" r="6.9" fill="#ff0000"/>
<text x="571.5" y="85.10">1h</text>
<path d="M509.5 107.00 H566" stroke="#1f6fe0" stroke-width="1.8" fill="none"/>
<path d="M529.40 111.60 L546.20 111.60 L537.80 97.60 Z" fill="#1f6fe0"/>
<text x="571.5" y="115.30">4h</text>
<path d="M509.5 137.20 H566" stroke="#3caa6a" stroke-width="1.8" fill="none"/>
<path d="M529.40 132.60 L546.20 132.60 L537.80 146.60 Z" fill="#3caa6a"/>
<text x="571.5" y="145.50">8h</text>
<path d="M509.5 167.40 H566" stroke="#b07cde" stroke-width="1.8" fill="none"/>
<path d="M529.80 167.40 L537.80 158.80 L545.80 167.40 L537.80 176.00 Z" fill="#b07cde"/>
<text x="571.5" y="175.70">12h</text>
</g>
</svg>
</body></html>
